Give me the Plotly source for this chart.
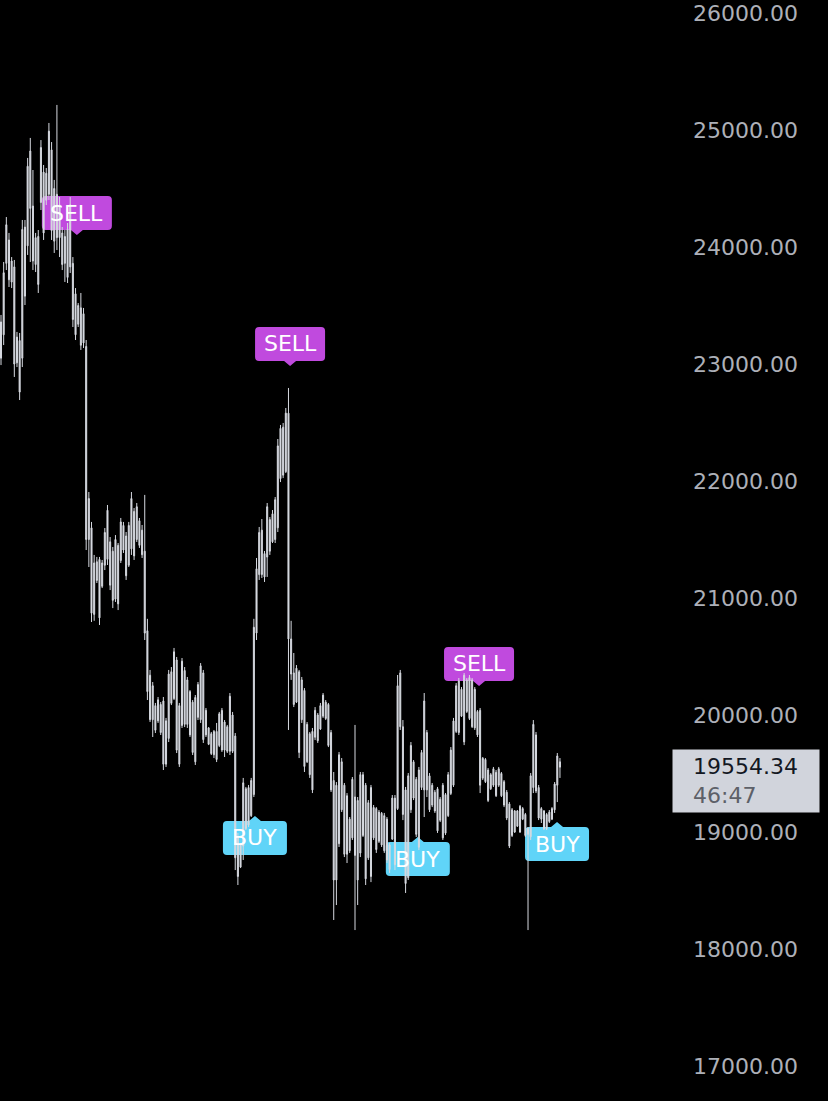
import plotly.graph_objects as go

# ---- data (price candles) ----
opens = [23050, 23250, 23860, 24060, 23700, 23830, 23010, 23200, 23050, 24170,
         24010, 24820, 24350, 23850, 24090, 24380, 24640, 24400, 24450, 24830,
         24050, 24450, 24080, 24120, 23860, 24150, 23830, 23860, 23600, 23340,
         23480, 23180, 23150, 21500, 21600, 20860, 21310, 21330, 21100, 21280,
         21330, 21480, 21400, 20990, 21450, 21320, 21620, 21530, 21280, 21420,
         21740, 21500, 21660, 21580, 21400, 20720, 20340, 19960, 20080, 19950,
         20090, 20120, 19580, 19800, 20370, 20140, 20470, 19580, 19910, 20380,
         19920, 20200, 20110, 19600, 19980, 20420, 19790, 20040, 19890, 19840,
         19660, 19860, 19740, 20040, 19700, 19900, 19690, 20000, 19820, 18960,
         18700, 18880, 19370, 19060, 19140, 19320, 20700, 21200, 21580, 21180,
         21350, 21670, 21480, 21500, 21600, 22020, 22460, 22080, 22580, 20650,
         20360, 20110, 20370, 19960, 20210, 19600, 19840, 19360, 19810, 20000,
         19880, 19990, 20110, 20090, 19850, 19440, 18590, 19660, 19190, 19400,
         18810, 19110, 18950, 19300, 18590, 19490, 18970, 19400, 18780, 19380,
         18950, 19200, 18920, 19160, 18840, 19110, 18680, 18940, 19290, 19200,
         20360, 19900, 19360, 18610, 19190, 19600, 19450, 18870, 19380, 20120,
         19360, 19480, 19230, 19340, 19010, 19280, 18950, 19320, 19140, 19330,
         19400, 19860, 20290, 19990, 19770, 20300, 19970, 20300, 19890, 20030,
         20040, 19460, 19620, 19530, 19370, 19540, 19310, 19540, 19310, 19430,
         19340, 19240, 18970, 19180, 19050, 19220, 19110, 19150, 18980, 18960,
         19380, 19830, 19380, 19110, 19180, 19030, 19170, 19110, 19190, 19400,
         19600]
highs = [23419, 23872, 24256, 24120, 23914, 23889, 23274, 23265, 24231, 24231,
         24761, 24932, 24658, 24120, 24145, 24914, 24701, 24675, 25060, 24897,
         24573, 25214, 24427, 24171, 24145, 24205, 24427, 23914, 23649, 23521,
         23607, 23479, 23205, 21906, 21650, 21368, 21351, 21351, 21325, 21598,
         21795, 21521, 21436, 21538, 21470, 21684, 21650, 21564, 21650, 21906,
         21769, 21812, 21684, 21624, 21881, 20822, 20385, 20282, 20103, 20154,
         20111, 20154, 19975, 20385, 20410, 20573, 20496, 20103, 20487, 20410,
         20325, 20213, 20128, 20171, 20282, 20444, 20385, 20060, 19897, 19855,
         19872, 19932, 20026, 20060, 19957, 19915, 20188, 20026, 19846, 18992,
         18906, 19462, 19385, 19402, 19462, 20822, 21342, 21607, 21675, 21402,
         21812, 21692, 21752, 21863, 22359, 22479, 22496, 22624, 22795, 20805,
         20530, 20427, 20385, 20325, 20230, 19940, 19855, 19889, 20068, 20017,
         20103, 20188, 20128, 20103, 19872, 19513, 19427, 19684, 19632, 19419,
         19333, 19128, 19470, 19915, 19299, 19513, 19513, 19419, 19273, 19402,
         19231, 19213, 19188, 19171, 19163, 19128, 18906, 19316, 19316, 20342,
         20385, 19957, 19385, 19504, 19769, 19615, 19470, 19556, 19701, 20188,
         19872, 19504, 19419, 19359, 19385, 19299, 19419, 19333, 19513, 19726,
         19975, 20273, 20316, 20239, 20359, 20316, 20342, 20316, 20239, 20043,
         20060, 19641, 19632, 19547, 19504, 19556, 19530, 19556, 19513, 19444,
         19359, 19256, 19205, 19188, 19188, 19231, 19213, 19163, 19043, 19504,
         19957, 19855, 19402, 19213, 19188, 19163, 19188, 19213, 19427, 19675,
         19632]
lows = [22991, 23162, 23803, 23658, 23649, 22889, 22974, 22692, 22974, 23504,
        23932, 23872, 23803, 23786, 23607, 24316, 24060, 24359, 24402, 24060,
        23949, 23974, 23914, 23803, 23701, 23692, 23778, 23316, 23205, 23316,
        23120, 23137, 21410, 21265, 20795, 20805, 21128, 20769, 21085, 21239,
        21282, 21068, 20914, 20966, 20897, 21299, 21385, 21154, 21265, 21368,
        21325, 21479, 21428, 21342, 20641, 20128, 19940, 19812, 19846, 19932,
        19829, 19530, 19556, 19769, 20085, 20128, 19675, 19556, 19889, 19897,
        19889, 19812, 19658, 19573, 19957, 19932, 19761, 19812, 19743, 19658,
        19632, 19598, 19726, 19684, 19641, 19675, 19658, 19675, 18675, 18547,
        18692, 18761, 19017, 19043, 19128, 19299, 20641, 21154, 21171, 21137,
        21180, 21368, 21470, 21470, 21564, 21991, 22025, 22068, 19872, 20300,
        20068, 20103, 19632, 19932, 19513, 19590, 19462, 19333, 19786, 19761,
        19872, 19975, 19957, 19726, 19342, 18248, 18376, 18872, 19171, 18786,
        18735, 18821, 18932, 18162, 18376, 18786, 18957, 18547, 18761, 18572,
        18932, 18821, 18906, 18872, 18821, 18735, 18650, 18932, 18675, 19188,
        19872, 19102, 18479, 18590, 19163, 19273, 18957, 18846, 19359, 19128,
        19299, 19171, 19213, 19163, 18992, 19085, 18932, 18975, 19128, 19316,
        19385, 19846, 19829, 19983, 19743, 20017, 19957, 19889, 19872, 19812,
        19333, 19444, 19419, 19256, 19359, 19385, 19299, 19385, 19299, 19213,
        19102, 18863, 18957, 18992, 19043, 18992, 19102, 18957, 18162, 18932,
        19333, 19333, 19102, 19077, 19017, 19017, 19077, 19102, 19163, 19256,
        19462]
closes = [23360, 23780, 24190, 23720, 23880, 23000, 23230, 22760, 24150, 23580,
          24690, 24330, 23880, 24080, 23680, 24850, 24120, 24630, 24990, 24140,
          24500, 24080, 24360, 23850, 24090, 23740, 24360, 23380, 23250, 23500,
          23160, 23430, 21500, 21850, 20870, 21300, 21150, 20830, 21300, 21560,
          21750, 21110, 20980, 21500, 20950, 21650, 21410, 21190, 21620, 21850,
          21360, 21780, 21450, 21370, 20700, 20200, 19960, 20250, 19870, 20130,
          19850, 19580, 19950, 20350, 20100, 20540, 19700, 20080, 20460, 19920,
          20300, 19830, 19680, 20150, 20260, 19960, 20360, 19830, 19750, 19670,
          19860, 19620, 20010, 19700, 19940, 19690, 20160, 19690, 18780, 18620,
          18890, 19420, 19030, 19380, 19440, 20750, 21250, 21560, 21200, 21380,
          21780, 21400, 21720, 21840, 22300, 22450, 22050, 22580, 20650, 20350,
          20090, 20400, 19680, 20300, 19560, 19920, 19490, 19860, 20040, 19780,
          20080, 20170, 19970, 19740, 19360, 18590, 19400, 18900, 19600, 18810,
          19310, 18840, 19450, 18800, 19270, 18820, 19490, 18600, 19250, 18620,
          19210, 18850, 19170, 18890, 19140, 18760, 18890, 19290, 18720, 20250,
          19900, 19150, 18560, 19480, 19740, 19290, 18980, 19530, 19680, 19360,
          19850, 19190, 19400, 19180, 19370, 19100, 19400, 18990, 19490, 19700,
          19950, 20250, 19850, 20220, 20340, 20030, 20320, 19900, 20220, 19830,
          19400, 19630, 19430, 19270, 19490, 19400, 19510, 19400, 19500, 19230,
          19120, 18880, 19190, 19000, 19180, 19000, 19200, 18970, 19030, 19480,
          19920, 19350, 19120, 19200, 19030, 19150, 19090, 19200, 19410, 19650,
          19554.34]
bar_index = list(range(len(closes)))

price_ticks = [17000, 18000, 19000, 20000, 21000, 22000, 23000, 24000, 25000, 26000]

signal_types = ["SELL", "SELL", "SELL", "BUY", "BUY", "BUY"]
signal_index = [28.5, 108.6, 179.6, 95.4, 156.6, 208.9]
signal_price = [24102, 22983, 20248, 19137, 18957, 19085]

last_price = closes[-1]
countdown = "46:47"

CANDLE = "#d6d9e0"
SELL_COLOR = "#c04ade"
BUY_COLOR = "#60d4f8"
FONT = "DejaVu Sans, Inter, sans-serif"

fig = go.Figure()
fig.add_trace(go.Candlestick(
    x=bar_index, open=opens, high=highs, low=lows, close=closes,
    increasing=dict(line=dict(color=CANDLE, width=1), fillcolor=CANDLE),
    decreasing=dict(line=dict(color=CANDLE, width=1), fillcolor=CANDLE),
    whiskerwidth=0, hoverinfo="skip",
))

sell_path = ("M -31,5 L -6,5 L 0,0 L 6,5 L 31,5 Q 35,5 35,9 L 35,35 Q 35,39 31,39 "
             "L -31,39 Q -35,39 -35,35 L -35,9 Q -35,5 -31,5 Z")
buy_path = ("M -28,-5 L -6,-5 L 0,0 L 6,-5 L 28,-5 Q 32,-5 32,-9 L 32,-35 Q 32,-39 28,-39 "
            "L -28,-39 Q -32,-39 -32,-35 L -32,-9 Q -32,-5 -28,-5 Z")

shapes = []
annotations = []
for kind, xi, pr in zip(signal_types, signal_index, signal_price):
    is_sell = kind == "SELL"
    shapes.append(dict(
        type="path", xref="x", yref="y", xsizemode="pixel", ysizemode="pixel",
        xanchor=xi, yanchor=pr, path=sell_path if is_sell else buy_path,
        fillcolor=SELL_COLOR if is_sell else BUY_COLOR, line=dict(width=0),
        layer="below",
    ))
    annotations.append(dict(
        x=xi, y=pr, xref="x", yref="y", text=kind, showarrow=False,
        yshift=22 if is_sell else -22, xanchor="center", yanchor="middle",
        font=dict(family=FONT, size=22, color="#ffffff"),
    ))

# last-price label on the price scale
annotations.append(dict(
    x=1, xref="paper", y=last_price, yref="y", xanchor="left", yanchor="middle",
    xshift=-8, yshift=-14, text=" ", showarrow=False, width=146, height=62,
    bgcolor="#d1d4dc", borderpad=0,
))
annotations.append(dict(
    x=1, xref="paper", y=last_price, yref="y", xanchor="left", yanchor="top",
    xshift=11, yshift=15, align="left", showarrow=False,
    text=f"{last_price:.2f}<br><span style='color:#5d6068'>{countdown}</span>",
    font=dict(family=FONT, size=22, color="#131722"),
))

fig.update_layout(
    width=828, height=1101,
    margin=dict(l=0, r=148, t=0, b=0),
    paper_bgcolor="#000000", plot_bgcolor="#000000",
    showlegend=False, hovermode=False, boxgap=0.45,
    xaxis=dict(visible=False, range=[-0.38, 255.1], rangeslider=dict(visible=False)),
    yaxis=dict(side="right", range=[16701, 26111], tickvals=price_ticks,
               tickformat=".2f", showgrid=False, zeroline=False, showline=False,
               ticks="", ticklabelstandoff=12, ticklabeloverflow="allow",
               automargin=False,
               tickfont=dict(family=FONT, size=22, color="#adb0b8")),
    shapes=shapes, annotations=annotations,
)

fig.write_html("out.html", config={"displayModeBar": False},
               post_script="document.body.style.margin='0';")
